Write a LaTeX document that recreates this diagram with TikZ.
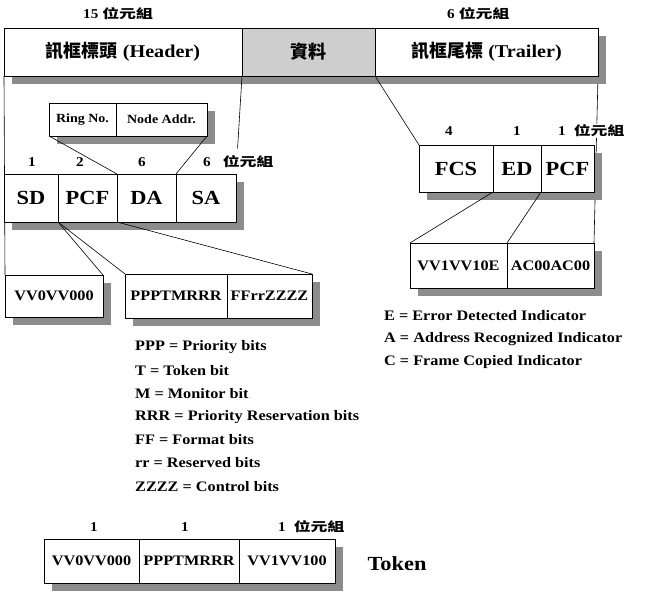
\documentclass[tikz,border=0pt]{standalone}
\usepackage{fontspec}
\setmainfont{Liberation Serif}[FakeStretch=1.12]
\newfontfamily\cjk{Noto Sans CJK TC}
\newfontfamily\cjkwide{Noto Sans CJK TC}[FakeStretch=1.35]
\usetikzlibrary{positioning,calc,backgrounds}
\definecolor{shadowgray}{RGB}{140,140,140}
\definecolor{datagray}{RGB}{206,206,206}
\newcommand{\bytes}{{\cjkwide\fontsize{12.5}{14}\selectfont 位元組}}

\begin{document}
\begin{tikzpicture}[x=1pt,y=-1pt,
    cellstyle/.style={draw,line width=0.8pt,fill=white,anchor=north west,
        inner sep=0pt,outer sep=0pt,font=\bfseries\fontsize{14.5}{16}\selectfont},
    titlestyle/.style={cellstyle,font=\bfseries\fontsize{20}{22}\selectfont},
    headstyle/.style={cellstyle,minimum height=48pt,font=\bfseries\fontsize{18}{20}\selectfont},
    ringstyle/.style={cellstyle,minimum height=33pt,font=\bfseries\fontsize{12.5}{14}\selectfont},
    bytestyle/.style={inner sep=1pt,font=\bfseries\fontsize{13.5}{14}\selectfont},
    legendstyle/.style={anchor=west,inner sep=2pt,font=\bfseries\fontsize{14.5}{16}\selectfont},
    linkstyle/.style={line width=0.6pt}]
    \useasboundingbox (0,0) rectangle (648,592);

    \node[headstyle,minimum width=238pt] (hdr) at (4,28) {{\cjk 訊框標頭} (Header)};
    \node[headstyle,minimum width=133pt,fill=datagray,right=0pt of hdr] (data) {{\cjk 資料}};
    \node[headstyle,minimum width=223pt,right=0pt of data] (trl) {{\cjk 訊框尾標} (Trailer)};
    \node[bytestyle,anchor=west] (hdrbytes) at (82,14) {15\hspace{4pt}\bytes};
    \node[bytestyle,anchor=west] (trlbytes) at (446,14) {6\hspace{4pt}\bytes};

    \node[ringstyle,minimum width=67pt] (ring) at (49,103) {Ring No.};
    \node[ringstyle,minimum width=91pt,right=0pt of ring] (addr) {Node Addr.};

    \node[titlestyle,minimum width=54pt,minimum height=48pt] (sd) at (4,174) {SD};
    \node[titlestyle,minimum width=59pt,minimum height=48pt,right=0pt of sd] (pcf) {PCF};
    \node[titlestyle,minimum width=59pt,minimum height=48pt,right=0pt of pcf] (da) {DA};
    \node[titlestyle,minimum width=60pt,minimum height=48pt,right=0pt of da] (sa) {SA};
    \node[bytestyle] (sdbytes) at (32,162) {1};
    \node[bytestyle] (pcfbytes) at (80,162) {2};
    \node[bytestyle] (dabytes) at (142,162) {6};
    \node[bytestyle,anchor=west] (sabytes) at (202,162) {6\hspace{12pt}\bytes};

    \node[titlestyle,minimum width=74pt,minimum height=47pt] (fcs) at (419,145) {FCS};
    \node[titlestyle,minimum width=48pt,minimum height=47pt,right=0pt of fcs] (ed) {ED};
    \node[titlestyle,minimum width=53pt,minimum height=47pt,right=0pt of ed] (pcft) {PCF};
    \node[bytestyle] (fcsbytes) at (449,131) {4};
    \node[bytestyle] (edbytes) at (517,131) {1};
    \node[bytestyle,anchor=west,fill=white] (pcftbytes) at (557,131) {1\hspace{8pt}\bytes};

    \node[cellstyle,minimum width=97pt,minimum height=45pt] (vv1) at (410,243) {VV1VV10E};
    \node[cellstyle,minimum width=87pt,minimum height=45pt,right=0pt of vv1] (ac) {AC00AC00};

    \node[cellstyle,minimum width=98pt,minimum height=42pt] (vv0) at (5,275) {VV0VV000};
    \node[cellstyle,minimum width=102pt,minimum height=44pt] (ppp) at (125,274) {PPPTMRRR};
    \node[cellstyle,minimum width=85pt,minimum height=44pt,right=0pt of ppp] (ff) {FFrrZZZZ};

    \foreach \txt [count=\i] in {E = Error Detected Indicator,
        A = Address Recognized Indicator,C = Frame Copied Indicator}
        \node[legendstyle] (flag\i) at (382,316+23*\i-23) {\txt};
    \foreach \txt [count=\i] in {PPP = Priority bits,T = Token bit,M = Monitor bit,
        RRR = Priority Reservation bits,FF = Format bits,rr = Reserved bits,ZZZZ = Control bits}
        \node[legendstyle] (bits\i) at (133,347+23.2*\i-23.2) {\txt};

    \node[cellstyle,minimum width=95pt,minimum height=44pt] (tok1) at (44,539) {VV0VV000};
    \node[cellstyle,minimum width=100pt,minimum height=44pt,right=0pt of tok1] (tok2) {PPPTMRRR};
    \node[cellstyle,minimum width=96pt,minimum height=44pt,right=0pt of tok2] (tok3) {VV1VV100};
    \node[bytestyle] (tok1bytes) at (94,527) {1};
    \node[bytestyle] (tok2bytes) at (185,527) {1};
    \node[bytestyle,anchor=west] (tok3bytes) at (277,527) {1\hspace{8pt}\bytes};
    \node[font=\bfseries\fontsize{20}{22}\selectfont] (token) at (397,564) {Token};

    \coordinate (datacut) at ($(data.south west)!0.74!(sa.north east)$);
    \begin{scope}[on background layer]
        \draw[linkstyle] (trl.south east) -- (ac.north east);
        \foreach \a/\b in {hdr/trl,ring/addr,sd/sa,fcs/pcft,vv1/ac,vv0/vv0,ppp/ff,tok1/tok3}
            \fill[shadowgray] ($(\a.north west)+(8,8)$) rectangle ($(\b.south east)+(8,8)$);
        \draw[linkstyle] (hdr.south west) -- (vv0.north west);
        \draw[linkstyle] (data.south west) -- (datacut);
        \draw[linkstyle] (trl.south west) -- (fcs.north west);
        \draw[linkstyle] (ring.south west) -- (da.north west);
        \draw[linkstyle] (addr.south east) -- (sa.north west);
        \draw[linkstyle] (pcf.south west) -- (vv0.north east);
        \draw[linkstyle] (pcf.south west) -- (ppp.north west);
        \draw[linkstyle] (da.south west) -- (ff.north east);
        \draw[linkstyle] (ed.south west) -- (vv1.north west);
        \draw[linkstyle] (pcft.south west) -- (ac.north west);
    \end{scope}
\end{tikzpicture}
\end{document}
